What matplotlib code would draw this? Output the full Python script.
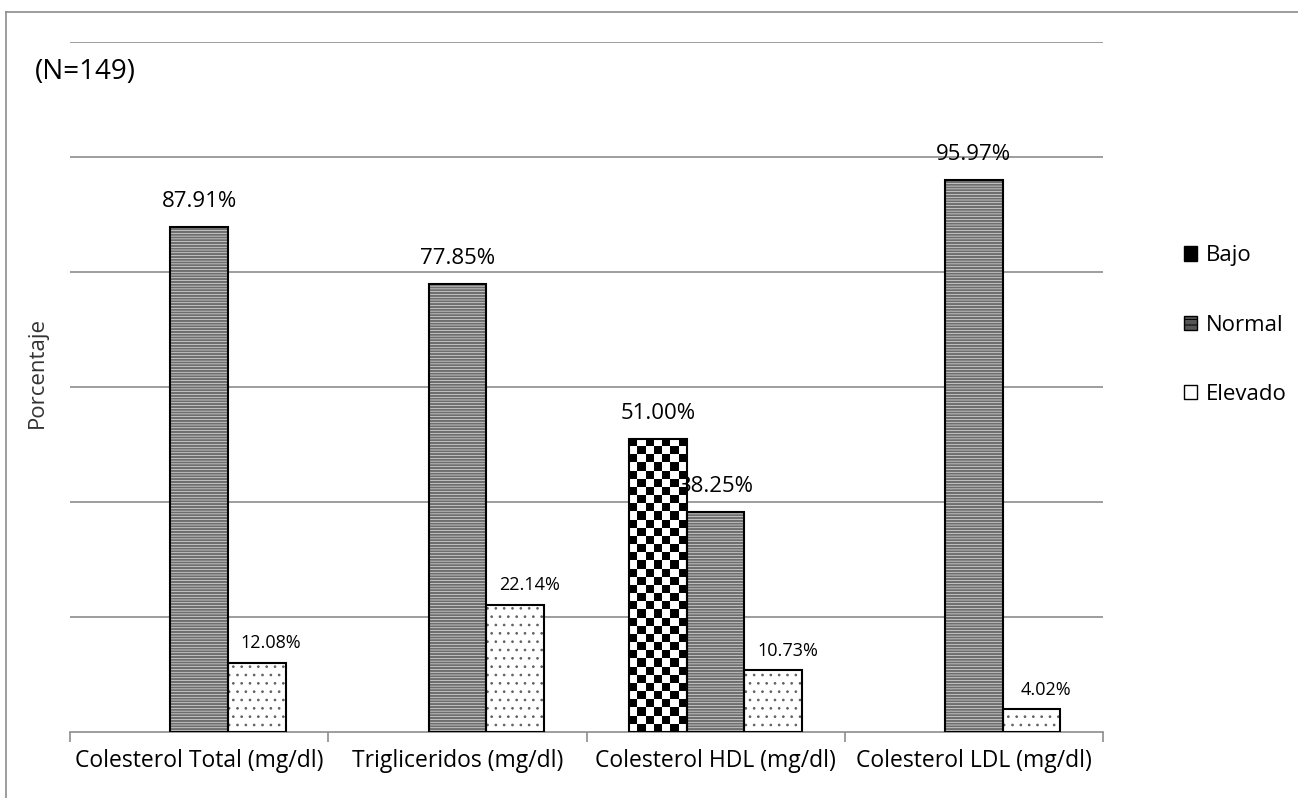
import numpy as np
import matplotlib.pyplot as plt
from matplotlib.lines import Line2D
from matplotlib.patches import Patch

# Chart data
categories = ['Colesterol Total (mg/dl)', 'Trigliceridos (mg/dl)',
              'Colesterol HDL (mg/dl)', 'Colesterol LDL (mg/dl)']
series_names = ['Bajo', 'Normal', 'Elevado']
bajo = [np.nan, np.nan, 51.00, np.nan]
normal = [87.91, 77.85, 38.25, 95.97]
elevado = [12.08, 22.14, 10.73, 4.02]
sample_label = '(N=149)'

plt.rcParams['font.family'] = ['Open Sans', 'DejaVu Sans']

fig = plt.figure(figsize=(12.98, 7.98), dpi=100)
ax = fig.add_axes([70 / 1298, 66 / 798, 1033 / 1298, 690 / 798])

x = np.arange(len(categories))
w = 0.223

# Bajo: checkerboard drawn inside the bar rectangle
bajo_bars = ax.bar(x - w, bajo, w, facecolor='none', edgecolor='black', linewidth=1.5, zorder=3)
for rect, val in zip(bajo_bars, bajo):
    if np.isnan(val):
        continue
    x0, bw, bh = rect.get_x(), rect.get_width(), rect.get_height()
    ncols = 7
    nrows = int(round(ncols * (bh / 120 * 690) / (bw / 4 * 1033)))
    board = (np.add.outer(np.arange(nrows), np.arange(ncols)) % 2).astype(float)
    ax.imshow(board, extent=(x0, x0 + bw, 0, bh), cmap='gray', aspect='auto',
              interpolation='nearest', zorder=2)

# Normal: horizontal gray stripes
plt.rcParams['hatch.linewidth'] = 1.6
ax.bar(x, normal, w, facecolor='white', edgecolor='#6e6e6e', hatch='------', linewidth=0, zorder=2)
ax.bar(x, normal, w, facecolor='none', edgecolor='black', linewidth=1.5, zorder=3)

# Elevado: small dots
plt.rcParams['hatch.linewidth'] = 0.7
ax.bar(x + w, elevado, w, facecolor='white', edgecolor='#606060', hatch='..', linewidth=0, zorder=2)
ax.bar(x + w, elevado, w, facecolor='none', edgecolor='black', linewidth=1.5, zorder=3)

# Value labels
for xi, v in zip(x - w, bajo):
    if not np.isnan(v):
        ax.text(xi, v + 2.6, f'{v:.2f}%', ha='center', va='bottom', fontsize=16, zorder=5)
for xi, v in zip(x, normal):
    ax.text(xi, v + 2.6, f'{v:.2f}%', ha='center', va='bottom', fontsize=16, zorder=5)
for xi, v in zip(x + w, elevado):
    ax.text(xi + 0.055, v + 1.8, f'{v:.2f}%', ha='center', va='bottom', fontsize=13, zorder=5)

ax.set_xlim(-0.5, len(categories) - 0.5)
ax.set_ylim(0, 120)
ax.set_yticks(np.arange(20, 121, 20))
ax.yaxis.grid(True, color='#8c8c8c', linewidth=1.2)
ax.set_axisbelow(True)
ax.tick_params(axis='y', left=False, labelleft=False)

ax.set_xticks(x)
ax.set_xticklabels(categories, fontsize=16.5)
ax.tick_params(axis='x', length=0, pad=12)
ax.set_xticks(np.arange(-0.5, len(categories)), minor=True)
ax.tick_params(axis='x', which='minor', length=7, color='#8c8c8c', width=1.2)

for side in ['top', 'right', 'left']:
    ax.spines[side].set_visible(False)
ax.spines['bottom'].set_color('#8c8c8c')
ax.spines['bottom'].set_linewidth(1.2)

fig.text(37 / 1298, 1 - 372 / 798, 'Porcentaje', fontsize=16, rotation=90,
         ha='center', va='center', color='#333333')
fig.text(35 / 1298, 1 - 72 / 798, sample_label, fontsize=20, va='center', ha='left')

# Legend
handles = [Patch(facecolor='black', edgecolor='black'),
           Patch(facecolor='#555555', edgecolor='black', hatch='---'),
           Patch(facecolor='white', edgecolor='black', hatch='.')]
fig.legend(handles, series_names, loc='center left', bbox_to_anchor=(1184 / 1298, 1 - 325 / 798),
           frameon=False, fontsize=16, handlelength=0.6, handleheight=0.6,
           handletextpad=0.4, labelspacing=2.17, borderpad=0, borderaxespad=0)

# Outer border
fig.add_artist(Line2D([6 / 1298, 6 / 1298], [0, 1 - 12 / 798], color='#8c8c8c', linewidth=1.2))
fig.add_artist(Line2D([6 / 1298, 1], [1 - 12 / 798, 1 - 12 / 798], color='#8c8c8c', linewidth=1.2))

fig.savefig('out.png', dpi=100)
